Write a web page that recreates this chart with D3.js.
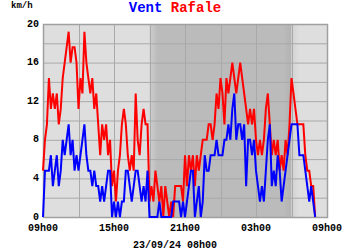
<!DOCTYPE html>
<html>
<head>
<meta charset="utf-8">
<script src="https://cdn.jsdelivr.net/npm/d3@7"></script>
<style>
  body { margin: 0; background: #fff; }
  text { font-family: "Liberation Mono", "DejaVu Sans Mono", monospace; font-weight: bold; }
</style>
</head>
<body>
<div id="chart"></div>
<script>
// wind (Vent) and gusts (Rafale), km/h, one reading every 10 min from 09h00
var vent = [
  0, 4.8, 4.8, 4.8, 6.4, 3.2, 4.8, 6.4, 3.2, 4.8,
  8.0, 6.4, 8.0, 9.6, 6.4, 8.0, 4.8, 6.4, 4.8, 6.4,
  8.0, 9.6, 6.4, 4.8, 4.8, 3.2, 4.8, 3.2, 3.2, 1.6,
  3.2, 1.6, 3.2, 4.8, 4.8, 0, 1.6, 0, 1.6, 0,
  1.6, 1.6, 4.8, 4.8, 3.2, 1.6, 3.2, 4.8, 4.8, 3.2,
  1.6, 3.2, 1.6, 4.8, 0, 0, 0, 0, 0, 1.6,
  0, 0, 0, 0, 0, 0, 1.6, 1.6, 1.6, 1.6,
  0, 1.6, 0, 1.6, 3.2, 4.8, 4.8, 0, 1.6, 3.2,
  0, 1.6, 6.4, 4.8, 4.8, 6.4, 6.4, 6.4, 8.0, 6.4,
  6.4, 6.4, 8.0, 8.0, 9.6, 8.0, 11.2, 12.8, 8.0, 9.6,
  9.6, 8.0, 9.6, 3.2, 8.0, 8.0, 6.4, 8.0, 4.8, 3.2,
  1.6, 3.2, 1.6, 4.8, 8.0, 9.6, 3.2, 4.8, 3.2, 6.4,
  4.8, 1.6, 3.2, 4.8, 6.4, 8.0, 9.6, 9.6, 9.6, 9.6,
  6.4, 6.4, 6.4, 4.8, 3.2, 1.6, 3.2, 1.6, 0
];
var rafale = [
  4.8, 8.0, 9.6, 14.4, 11.2, 12.8, 11.2, 12.8, 9.6, 11.2,
  14.4, 16.0, 17.6, 19.2, 16.0, 17.6, 17.6, 16.0, 11.2, 14.4,
  12.8, 19.2, 16.0, 14.4, 12.8, 14.4, 11.2, 12.8, 9.6, 6.4,
  9.6, 8.0, 9.6, 6.4, 8.0, 3.2, 4.8, 1.6, 4.8, 6.4,
  9.6, 11.2, 9.6, 6.4, 4.8, 6.4, 4.8, 12.8, 8.0, 6.4,
  9.6, 11.2, 9.6, 9.6, 1.6, 3.2, 1.6, 4.8, 3.2, 1.6,
  3.2, 0, 3.2, 1.6, 0, 1.6, 0, 3.2, 3.2, 3.2,
  3.2, 1.6, 6.4, 3.2, 6.4, 4.8, 6.4, 3.2, 6.4, 4.8,
  6.4, 8.0, 8.0, 8.0, 9.6, 9.6, 8.0, 9.6, 12.8, 11.2,
  14.4, 12.8, 9.6, 14.4, 12.8, 14.4, 16.0, 14.4, 12.8, 14.4,
  16.0, 14.4, 12.8, 11.2, 9.6, 11.2, 9.6, 11.2, 8.0, 6.4,
  8.0, 6.4, 8.0, 11.2, 12.8, 9.6, 6.4, 8.0, 6.4, 8.0,
  4.8, 6.4, 4.8, 8.0, 6.4, 9.6, 14.4, 12.8, 11.2, 9.6,
  9.6, 9.6, 9.6, 6.4, 4.8, 4.8, 3.2, 3.2, 0
];
var yTicks = [0, 4, 8, 12, 16, 20];
var xLabelHours = [0, 6, 12, 18, 24]; // hours after start: 09h00, 15h00, 21h00, 03h00, 09h00
var startTime = new Date(2024, 8, 22, 9, 0);
var endTime = new Date(2024, 8, 23, 9, 0);
var nightStart = new Date(2024, 8, 22, 18, 0);
var nightEnd = new Date(2024, 8, 23, 6, 0);
var footer = "23/09/24 08h00";

var svgW = 350, svgH = 250;
var margin = { top: 24, right: 23, bottom: 33, left: 43 };
var width = svgW - margin.left - margin.right;
var height = svgH - margin.top - margin.bottom;

var svg = d3.select("#chart").append("svg")
  .attr("width", svgW)
  .attr("height", svgH);

var g = svg.append("g")
  .attr("transform", `translate(${margin.left}, ${margin.top})`);

var x = d3.scaleTime().domain([startTime, endTime]).range([0, width]);
var y = d3.scaleLinear().domain([0, 20]).range([height, 0]);

var times = vent.map((d, i) => d3.timeMinute.offset(startTime, i * 10));

// background + night band
var defs = svg.append("defs");
var grad = defs.append("linearGradient").attr("id", "night");
var nx0 = x(nightStart), nx1 = x(nightEnd), nw = nx1 - nx0;
[[0, "#cfcfcf"], [8 / nw, "#bbbbbb"], [1 - 8 / nw, "#bbbbbb"], [1, "#b2b2b2"]]
  .forEach(s => grad.append("stop").attr("offset", s[0]).attr("stop-color", s[1]));
var grad2 = defs.append("linearGradient").attr("id", "dawn");
[[0, "#d2d2d2"], [1, "#dedede"]]
  .forEach(s => grad2.append("stop").attr("offset", s[0]).attr("stop-color", s[1]));

g.append("rect").attr("width", width).attr("height", height).attr("fill", "#dedede");
g.append("rect").attr("x", nx0).attr("width", nw).attr("height", height).attr("fill", "url(#night)");
g.append("rect").attr("x", nx1).attr("width", 8).attr("height", height).attr("fill", "url(#dawn)");

// grid
g.append("g").selectAll("line")
  .data(d3.range(0, 21, 2))
  .join("line")
  .attr("x1", 0).attr("x2", width)
  .attr("y1", d => y(d) + 0.5).attr("y2", d => y(d) + 0.5)
  .attr("stroke", "#a9a9a9");
g.append("g").selectAll("line")
  .data(x.ticks(d3.timeHour.every(3)))
  .join("line")
  .attr("x1", d => Math.round(x(d)) + 0.5).attr("x2", d => Math.round(x(d)) + 0.5)
  .attr("y1", 0).attr("y2", height)
  .attr("stroke", "#a9a9a9");
g.append("rect").attr("x", 0.5).attr("y", 0.5).attr("width", width).attr("height", height)
  .attr("fill", "none").attr("stroke", "#a0a0a0").attr("stroke-width", 1.5);

// axes labels
g.append("g").selectAll("text")
  .data(yTicks)
  .join("text")
  .attr("x", -4).attr("y", d => y(d) + 2.5)
  .attr("text-anchor", "end")
  .attr("font-size", 10)
  .text(d => d);

var fmt = d3.timeFormat("%Hh%M");
g.append("g").selectAll("text")
  .data(xLabelHours.map(h => d3.timeHour.offset(startTime, h)))
  .join("text")
  .attr("x", d => x(d)).attr("y", height + 13.5)
  .attr("text-anchor", "middle")
  .attr("font-size", 10)
  .text(d => fmt(d));

// lines
var line = d3.line()
  .x((d, i) => x(times[i]))
  .y(d => y(d));

g.append("path").datum(rafale)
  .attr("d", line).attr("fill", "none")
  .attr("stroke", "#ff0000").attr("stroke-width", 2);
g.append("path").datum(vent)
  .attr("d", line).attr("fill", "none")
  .attr("stroke", "#0000ff").attr("stroke-width", 2);

// titles
svg.append("text").attr("x", 11).attr("y", 8).attr("font-size", 9).text("km/h");
var title = svg.append("text").attr("x", 175).attr("y", 11.5)
  .attr("text-anchor", "middle").attr("font-size", 14);
title.append("tspan").attr("fill", "#0000ff").text("Vent ");
title.append("tspan").attr("fill", "#ff0000").text("Rafale");

svg.append("text").attr("x", 175).attr("y", 247.5)
  .attr("text-anchor", "middle").attr("font-size", 10)
  .text(footer);
</script>
</body>
</html>
